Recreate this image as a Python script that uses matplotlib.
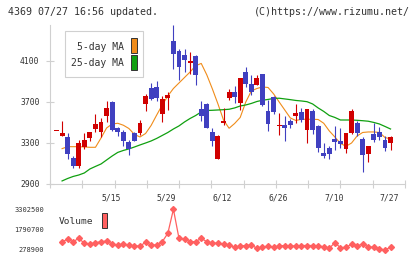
import numpy as np
import matplotlib
matplotlib.use('Agg')
import matplotlib.pyplot as plt
from matplotlib.patches import Rectangle

plt.rcParams['font.family'] = 'DejaVu Sans Mono'

# donnees (cours journaliers)
ouv = [3413, 3370, 3357, 3152, 3076, 3262, 3350, 3435, 3406, 3562,
       3699, 3445, 3406, 3311, 3396, 3396, 3680, 3836, 3846, 3582,
       3739, 4296, 4198, 4159, 4081, 4149, 3631, 3680, 3406, 3142,
       3494, 3739, 3797, 3690, 3993, 3876, 3866, 3973, 3611, 3748,
       3465, 3474, 3514, 3562, 3602, 3426, 3611, 3465, 3201, 3250,
       3338, 3318, 3240, 3396, 3494, 3338, 3191, 3387, 3406, 3328, 3298]
haut = [3413, 3514, 3393, 3171, 3328, 3393, 3406, 3582, 3543, 3709,
        3709, 3455, 3426, 3328, 3406, 3523, 3778, 3885, 3905, 3758,
        3797, 4452, 4218, 4218, 4188, 4159, 3709, 3690, 3445, 3377,
        3641, 3827, 3856, 3934, 4042, 3963, 3963, 3973, 3719, 3758,
        3592, 3562, 3533, 3680, 3641, 3631, 3631, 3474, 3298, 3269,
        3465, 3445, 3396, 3631, 3514, 3357, 3269, 3494, 3455, 3367, 3367]
bas = [3413, 3367, 3142, 3057, 3057, 3240, 3318, 3406, 3357, 3504,
       3419, 3367, 3269, 3181, 3318, 3377, 3611, 3719, 3709, 3504,
       3621, 4022, 3915, 3993, 3973, 3866, 3514, 3445, 3269, 3142,
       3474, 3719, 3690, 3621, 3846, 3768, 3866, 3660, 3416, 3582,
       3377, 3318, 3445, 3494, 3504, 3298, 3387, 3210, 3152, 3142,
       3230, 3250, 3201, 3387, 3367, 3015, 3113, 3308, 3328, 3220, 3230]
clot = [3413, 3399, 3191, 3076, 3298, 3328, 3406, 3484, 3504, 3641,
        3426, 3406, 3318, 3240, 3318, 3494, 3758, 3729, 3739, 3729,
        3768, 4169, 4042, 4110, 4100, 3964, 3562, 3445, 3318, 3367,
        3514, 3797, 3748, 3934, 3876, 3797, 3934, 3670, 3484, 3602,
        3474, 3445, 3474, 3592, 3523, 3631, 3426, 3250, 3171, 3191,
        3308, 3289, 3396, 3611, 3396, 3181, 3269, 3328, 3357, 3250, 3357]

# moyennes mobiles 5 et 25 jours (pas de valeur pour le premier jour)
mm5 = [None,
       3243, 3262, 3262, 3262, 3259, 3256, 3256, 3347, 3445, 3484,
       3491, 3472, 3440, 3382, 3357, 3391, 3470, 3572, 3670, 3758,
       3831, 3885, 3939, 3993, 4054, 4076, 3964, 3827, 3680, 3523,
       3442, 3489, 3548, 3699, 3807, 3831, 3846, 3841, 3778, 3699,
       3621, 3543, 3518, 3530, 3530, 3530, 3528, 3491, 3416, 3357,
       3294, 3266, 3298, 3367, 3401, 3406, 3406, 3401, 3352, 3338]
mm25 = [None,
        2927, 2951, 2971, 2985, 3005, 3044, 3069, 3093, 3132, 3171,
        3206, 3225, 3240, 3259, 3279, 3298, 3318, 3343, 3372, 3401,
        3435, 3465, 3504, 3538, 3567, 3602, 3616, 3618, 3621, 3624,
        3628, 3641, 3660, 3670, 3685, 3704, 3716, 3724, 3734, 3736,
        3729, 3722, 3714, 3709, 3702, 3680, 3641, 3607, 3567, 3548,
        3523, 3523, 3523, 3520, 3516, 3511, 3499, 3484, 3460, 3435]

volume = [None,
          877600, 1057000, 877600, 1132000, 758000, 706000, 803000, 877600, 930000, 706000,
          631000, 706000, 631000, 556000, 556000, 833000, 631000, 631000, 877600, 1506000,
          3302500, 1132000, 1080000, 877600, 877600, 1132000, 877600, 780000, 758000, 683000,
          631000, 459000, 556000, 593000, 631000, 384000, 459000, 556000, 459000, 556000,
          593000, 556000, 556000, 593000, 593000, 593000, 556000, 504000, 384000, 803000,
          429000, 459000, 691000, 571000, 691000, 504000, 444000, 316000, 278900, 459000]

dates_idx = [10, 20, 30, 40, 50, 60]
dates_lbl = ['5/15', '5/29', '6/12', '6/26', '7/10', '7/27']
prix_ticks = [2900, 3300, 3700, 4100]
vol_ticks = [278900, 1790700, 3302500]

ROUGE = '#d00000'
BLEU = '#4040c0'
ORANGE = '#f08c1a'
VERT = '#10a010'
VCOL = '#ff6060'
GRIS = '#d0d0d0'
TEXTE = '#333333'

W, H = 420, 259
fig = plt.figure(figsize=(W / 100, H / 100), dpi=100)

def fx(px):
    return px / W

def fy(py):
    return 1 - py / H

# axe des prix
ax = fig.add_axes([fx(50), fy(183.7), fx(405) - fx(50), fy(25) - fy(183.7)])
x = np.arange(len(ouv))
o = np.array(ouv, dtype=float)
c = np.array(clot, dtype=float)
couleurs = np.where(c >= o, ROUGE, BLEU)

ax.plot(x, np.array(mm5, dtype=float), color=ORANGE, lw=0.8, zorder=2)
ax.plot(x, np.array(mm25, dtype=float), color=VERT, lw=0.9, zorder=2)
ax.vlines(x, bas, haut, colors=couleurs, lw=0.8, zorder=3)
corps = np.maximum(np.abs(c - o), 8)
ax.bar(x, corps, bottom=np.minimum(o, c), width=0.88, color=couleurs, linewidth=0, zorder=4)

xmin, xmax = -1.168, 62.6
ax.set_xlim(xmin, xmax)
ax.set_ylim(2900, 4452)
for s in ['top', 'right']:
    ax.spines[s].set_visible(False)
for s in ['left', 'bottom']:
    ax.spines[s].set_color(GRIS)
    ax.spines[s].set_linewidth(0.8)
ax.set_yticks(prix_ticks)
ax.set_yticklabels([str(v) for v in prix_ticks])
ax.set_xticks(np.linspace(xmin, xmax, 12))
ax.set_xticklabels([])
ax.tick_params(direction='inout', length=6, width=0.8, color=GRIS,
               labelcolor=TEXTE, labelsize=5.8)
ax.tick_params(axis='y', pad=4.5)
for i, lbl in zip(dates_idx, dates_lbl):
    ax.text(i - 0.2, -0.092, lbl, transform=ax.get_xaxis_transform(),
            ha='center', va='center', fontsize=5.8, color=TEXTE)

# axe du volume
vax = fig.add_axes([fx(50), fy(254), fx(405) - fx(50), fy(205) - fy(254)])
vax.plot(x, np.array(volume, dtype=float), color=VCOL, lw=0.9,
         marker='D', ms=3.0, mec=VCOL, mfc=VCOL)
vax.set_xlim(xmin, xmax)
vax.set_ylim(-43000, 3624000)
for s in vax.spines.values():
    s.set_visible(False)
vax.set_xticks([])
vax.set_yticks(vol_ticks)
vax.set_yticklabels([str(v) for v in vol_ticks])
vax.tick_params(axis='y', length=0, pad=4.2, labelsize=5.0, labelcolor=TEXTE)

# titres
fig.text(fx(8), fy(12.3), '4369 07/27 16:56 updated.', fontsize=7.2,
         color=TEXTE, ha='left', va='center')
fig.text(fx(410), fy(12.3), '(C)https://www.rizumu.net/', fontsize=7.2,
         color=TEXTE, ha='right', va='center')

# legende des moyennes mobiles
def rect_px(x0, y0, x1, y1, **kw):
    r = Rectangle((fx(x0), fy(y1)), fx(x1) - fx(x0), fy(y0) - fy(y1),
                  transform=fig.transFigure, zorder=10, **kw)
    fig.add_artist(r)

rect_px(65, 30.7, 143.3, 77.3, facecolor='white', edgecolor=GRIS, lw=0.8)
rect_px(131.3, 38, 137, 53, facecolor=ORANGE, edgecolor=TEXTE, lw=0.7)
rect_px(131.3, 54.5, 137, 69.5, facecolor=VERT, edgecolor=TEXTE, lw=0.7)
fig.text(fx(124), fy(46.7), '5-day MA', fontsize=7, color=TEXTE,
         ha='right', va='center', zorder=11)
fig.text(fx(124), fy(63.3), '25-day MA', fontsize=7, color=TEXTE,
         ha='right', va='center', zorder=11)

# legende du volume
fig.text(fx(59), fy(221.7), 'Volume', fontsize=6.8, color=TEXTE,
         ha='left', va='center')
rect_px(101.7, 213, 107.3, 228.3, facecolor=VCOL, edgecolor=TEXTE, lw=0.7)

plt.savefig('out.png', dpi=100)
